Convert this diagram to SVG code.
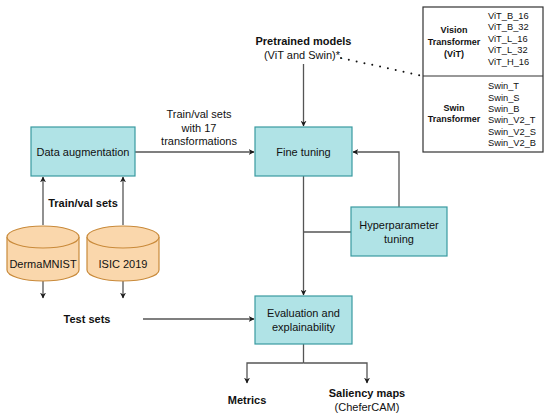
<svg xmlns="http://www.w3.org/2000/svg" width="550" height="418" viewBox="0 0 550 418">
<style>
text{font-family:"Liberation Sans",Arial,sans-serif;fill:#111}
.box{fill:#b0e3e6;stroke:#3a9aa0;stroke-width:1.2}
.cyl{fill:#fad7ac;stroke:#c98a3a;stroke-width:1.2}
.t{font-size:11px;text-anchor:middle}
.b{font-size:11px;font-weight:bold;text-anchor:middle}
.s{font-size:9.3px}
.sb{font-size:9px;font-weight:bold;text-anchor:middle}
.ln{fill:none;stroke:#555;stroke-width:1.3}
.arr{marker-end:url(#ah)}
</style>
<defs>
<marker id="ah" viewBox="0 0 10 10" refX="9" refY="5" markerWidth="6" markerHeight="6" markerUnits="userSpaceOnUse" orient="auto">
<path d="M0,0 L10,5 L0,10 L3,5 Z" fill="#1a1a1a"/>
</marker>
</defs>
<rect width="550" height="418" fill="#ffffff"/>
<g id="connectors">
<line class="ln arr" x1="135" y1="152" x2="254" y2="152"/>
<line class="ln arr" x1="303.5" y1="64" x2="303.5" y2="126"/>
<polyline class="ln arr" points="399,207 399,152 353,152"/>
<line class="ln arr" x1="303.5" y1="176" x2="303.5" y2="295"/>
<line class="ln" x1="351" y1="232" x2="303.5" y2="232"/>
<line class="ln arr" x1="43" y1="225" x2="43" y2="177"/>
<line class="ln arr" x1="123" y1="225" x2="123" y2="177"/>
<line class="ln arr" x1="43" y1="281" x2="43" y2="298"/>
<line class="ln arr" x1="123" y1="281" x2="123" y2="298"/>
<line class="ln arr" x1="143" y1="319" x2="254" y2="319"/>
<polyline class="ln" points="303.5,344 303.5,363"/>
<polyline class="ln arr" points="303.5,363 247,363 247,383"/>
<polyline class="ln arr" points="303.5,363 367,363 367,383"/>
<line x1="341" y1="58" x2="423" y2="76" stroke="#111" stroke-width="2" stroke-linecap="round" stroke-dasharray="0 8"/>
</g>
<g id="data-augmentation">
<rect class="box" x="31" y="127" width="104" height="49"/>
<text class="t" x="83" y="156">Data augmentation</text>
</g>
<g id="fine-tuning">
<rect class="box" x="255" y="127" width="97" height="49"/>
<text class="t" x="303.5" y="156">Fine tuning</text>
</g>
<g id="hyperparameter-tuning">
<rect class="box" x="351" y="207" width="96" height="49"/>
<text class="t" x="399" y="229">Hyperparameter</text>
<text class="t" x="399" y="243">tuning</text>
</g>
<g id="evaluation">
<rect class="box" x="255" y="296" width="97" height="48"/>
<text class="t" x="303.5" y="317">Evaluation and</text>
<text class="t" x="303.5" y="331">explainability</text>
</g>
<g id="dermamnist">
<path class="cyl" d="M7,237 A36,11 0 0 1 79,237 L79,270 A36,11 0 0 1 7,270 Z"/>
<path class="cyl" d="M7,237 A36,11 0 0 0 79,237" fill="none"/>
<text class="t" x="43" y="268">DermaMNIST</text>
</g>
<g id="isic2019">
<path class="cyl" d="M87,237 A36,11 0 0 1 159,237 L159,270 A36,11 0 0 1 87,270 Z"/>
<path class="cyl" d="M87,237 A36,11 0 0 0 159,237" fill="none"/>
<text class="t" x="123" y="268">ISIC 2019</text>
</g>
<g id="labels">
<text class="t" x="199" y="118">Train/val sets</text>
<text class="t" x="199" y="132">with 17</text>
<text class="t" x="199" y="145">transformations</text>
<text class="b" x="303.5" y="45">Pretrained models</text>
<text class="t" x="303.5" y="59">(ViT and Swin)*.</text>
<text class="b" x="83" y="207">Train/val sets</text>
<text class="b" x="87" y="323">Test sets</text>
<text class="b" x="247" y="404">Metrics</text>
<text class="b" x="367" y="397">Saliency maps</text>
<text class="t" x="367" y="411">(CheferCAM)</text>
</g>
<g id="model-table">
<rect x="423" y="7" width="120" height="145" fill="#ffffff" stroke="#333" stroke-width="1.2"/>
<line x1="423" y1="76" x2="543" y2="76" stroke="#333" stroke-width="1.2"/>
<text class="sb" x="454" y="33">Vision</text>
<text class="sb" x="454" y="45">Transformer</text>
<text class="sb" x="454" y="57">(ViT)</text>
<text class="sb" x="454" y="111">Swin</text>
<text class="sb" x="454" y="122">Transformer</text>
<text class="s" x="488" y="18.6">ViT_B_16</text>
<text class="s" x="488" y="29.8">ViT_B_32</text>
<text class="s" x="488" y="41.6">ViT_L_16</text>
<text class="s" x="488" y="53.3">ViT_L_32</text>
<text class="s" x="488" y="65">ViT_H_16</text>
<text class="s" x="488" y="89.3">Swin_T</text>
<text class="s" x="488" y="100.5">Swin_S</text>
<text class="s" x="488" y="111.8">Swin_B</text>
<text class="s" x="488" y="123">Swin_V2_T</text>
<text class="s" x="488" y="134.5">Swin_V2_S</text>
<text class="s" x="488" y="146">Swin_V2_B</text>
</g>
</svg>
